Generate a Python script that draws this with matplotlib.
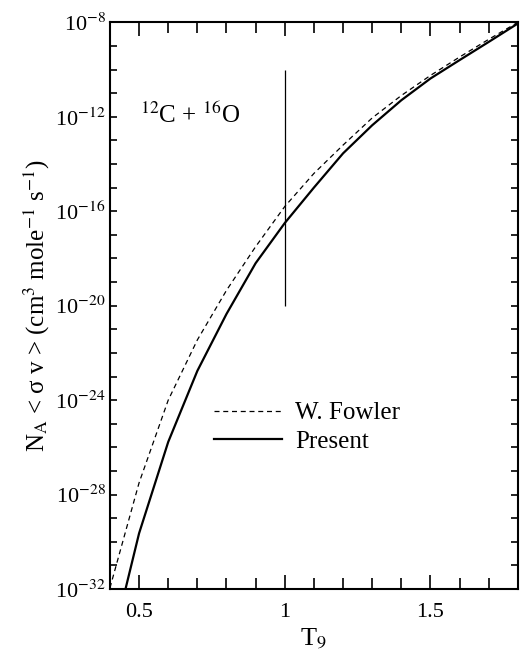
import numpy as np
import matplotlib
matplotlib.use("Agg")
import matplotlib.pyplot as plt
from matplotlib.ticker import FixedLocator, NullFormatter

plt.rcParams['font.family'] = ['Liberation Serif', 'DejaVu Serif']
plt.rcParams['mathtext.fontset'] = 'stix'

# temperature grid (T9) and log10 of the rates
t9 = [0.4, 0.5, 0.6, 0.7, 0.8, 0.9, 1.0, 1.1, 1.2, 1.3, 1.4, 1.5, 1.6, 1.7, 1.8]
logFowler = [-31.95, -27.5, -24.0, -21.45, -19.35, -17.5, -15.8, -14.4,
             -13.2, -12.05, -11.1, -10.25, -9.47, -8.72, -8.0]
logPresent = [-34.7, -29.64, -25.77, -22.76, -20.35, -18.2, -16.5, -15.0,
              -13.55, -12.36, -11.3, -10.38, -9.6, -8.83, -8.05]

markT9 = 1.0
markRange = [1e-20, 1e-10]

xTicks = [0.5, 1.0, 1.5]
xTickLabels = ['0.5', '1', '1.5']
yExps = [-32, -28, -24, -20, -16, -12, -8]

fig = plt.figure(figsize=(5.21, 6.56), dpi=100)
ax = fig.add_axes([0.211, 0.102, 0.783, 0.864])

ax.plot(t9, 10.0**np.array(logFowler), color='black', lw=0.9, ls=(0, (4, 3)),
        label='W. Fowler')
ax.plot(t9, 10.0**np.array(logPresent), color='black', lw=1.6, label='Present')
ax.vlines(markT9, markRange[0], markRange[1], color='black', lw=0.9)

ax.set_yscale('log')
ax.set_xlim(0.4, 1.8)
ax.set_ylim(1e-32, 1e-8)

ax.xaxis.set_major_locator(FixedLocator(xTicks))
ax.set_xticklabels(xTickLabels)
ax.xaxis.set_minor_locator(FixedLocator(np.arange(0.4, 1.81, 0.1)))
ax.yaxis.set_major_locator(FixedLocator([10.0**e for e in yExps]))
ax.set_yticklabels([r'10$^{%d}$' % e for e in yExps])
ax.yaxis.set_minor_locator(FixedLocator([10.0**e for e in range(-32, -7)]))
ax.yaxis.set_minor_formatter(NullFormatter())

ax.tick_params(which='both', direction='in', top=True, right=True,
               labelsize=16, width=1.2)
ax.tick_params(axis='x', which='major', length=10, pad=10)
ax.tick_params(axis='x', which='minor', length=8)
ax.tick_params(axis='y', which='both', length=5, pad=3)
for s in ax.spines.values():
    s.set_linewidth(1.5)

ax.set_xlabel(r'T$_9$', fontsize=19, labelpad=3)
ax.set_ylabel(r'N$_{\rm A}$ < σ v > (cm$^3$ mole$^{-1}$ s$^{-1}$)',
              fontsize=18, labelpad=2)

ax.text(0.503, 10**-11.95, r'$^{12}$C + $^{16}$O', fontsize=18, va='center')

ax.legend(loc='upper left', bbox_to_anchor=(0.2, 0.37), frameon=False,
          fontsize=18, handlelength=2.7, handletextpad=0.55, labelspacing=0.25)

fig.savefig('out.png', dpi=100)
